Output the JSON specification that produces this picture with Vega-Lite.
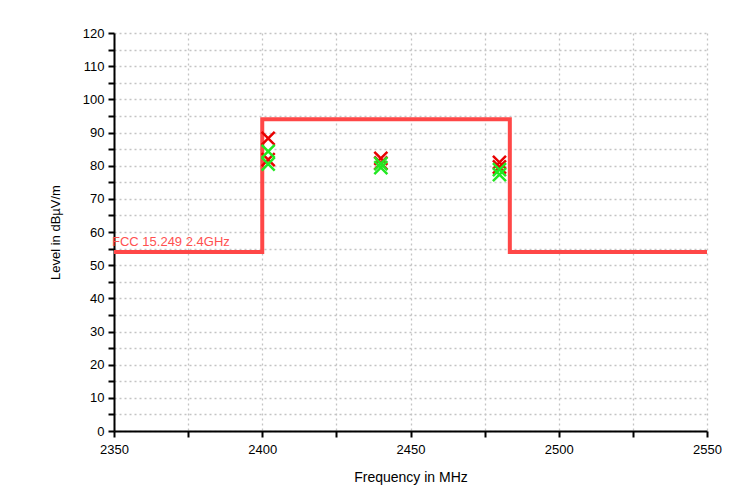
{
  "$schema": "https://vega.github.io/schema/vega-lite/v6.json",
  "width": 593,
  "height": 398,
  "autosize": "none",
  "padding": {"left": 114, "top": 33, "right": 38, "bottom": 71},
  "background": "white",
  "config": {
    "view": {"stroke": null},
    "font": "Liberation Sans",
    "axis": {
      "labelFont": "Liberation Sans",
      "titleFont": "Liberation Sans",
      "labelFontSize": 13,
      "titleFontSize": 13,
      "titleFontWeight": "normal",
      "labelColor": "black",
      "titleColor": "black",
      "labelFlush": false,
      "domainColor": "black",
      "domainWidth": 2,
      "tickColor": "black",
      "tickWidth": 2,
      "tickSize": 6,
      "gridColor": "#c4c4c4",
      "gridDash": [2, 3],
      "gridWidth": 1.3
    }
  },
  "datasets": {
    "limit": [
      {"f": 2350, "level": 54, "k": 1},
      {"f": 2400, "level": 54, "k": 2},
      {"f": 2400, "level": 94, "k": 3},
      {"f": 2483.5, "level": 94, "k": 4},
      {"f": 2483.5, "level": 54, "k": 5},
      {"f": 2550, "level": 54, "k": 6}
    ],
    "meas": [
      {"f": 2402, "level": 88.2, "s": "peak"},
      {"f": 2402, "level": 81.8, "s": "peak"},
      {"f": 2402, "level": 84.3, "s": "avg"},
      {"f": 2402, "level": 80.5, "s": "avg"},
      {"f": 2440, "level": 82.2, "s": "peak"},
      {"f": 2440, "level": 80.8, "s": "peak"},
      {"f": 2440, "level": 79.4, "s": "avg"},
      {"f": 2440, "level": 80.6, "s": "avg"},
      {"f": 2480, "level": 81.0, "s": "peak"},
      {"f": 2480, "level": 79.6, "s": "peak"},
      {"f": 2480, "level": 78.8, "s": "avg"},
      {"f": 2480, "level": 77.3, "s": "avg"}
    ],
    "lbl": [{"f": 2350, "level": 54, "t": "FCC 15.249 2.4GHz"}]
  },
  "encoding": {
    "x": {
      "field": "f", "type": "quantitative",
      "scale": {"domain": [2350, 2550], "nice": false, "zero": false},
      "axis": {
        "title": "Frequency in MHz",
        "values": [2350, 2375, 2400, 2425, 2450, 2475, 2500, 2525, 2550],
        "labelExpr": "datum.value % 50 === 0 ? datum.label : ''",
        "format": "d",
        "labelPadding": 6,
        "titlePadding": 14,
        "titleFontSize": 14
      }
    },
    "y": {
      "field": "level", "type": "quantitative",
      "scale": {"domain": [0, 120], "nice": false},
      "axis": {
        "title": "Level in dBµV/m",
        "values": [0,5,10,15,20,25,30,35,40,45,50,55,60,65,70,75,80,85,90,95,100,105,110,115,120],
        "labelExpr": "datum.value % 10 === 0 ? datum.label : ''",
        "labelPadding": 4,
        "titlePadding": 20
      }
    }
  },
  "layer": [
    {
      "data": {"name": "limit"},
      "mark": {"type": "line", "color": "#ff4747", "strokeWidth": 4, "strokeCap": "butt", "strokeJoin": "miter"},
      "encoding": {"order": {"field": "k", "type": "quantitative"}}
    },
    {
      "data": {"name": "lbl"},
      "mark": {"type": "text", "align": "left", "baseline": "alphabetic", "dx": -2, "dy": -6, "fontSize": 13, "color": "#ff5050"},
      "encoding": {"text": {"field": "t"}}
    },
    {
      "data": {"name": "meas"},
      "mark": {"type": "point", "shape": "M-1,-1L1,1M1,-1L-1,1", "filled": false, "size": 170, "strokeWidth": 2.5, "opacity": 1},
      "encoding": {
        "color": {
          "field": "s", "type": "nominal",
          "scale": {"domain": ["peak", "avg"], "range": ["#e80000", "#22e822"]},
          "legend": null
        }
      }
    }
  ]
}
